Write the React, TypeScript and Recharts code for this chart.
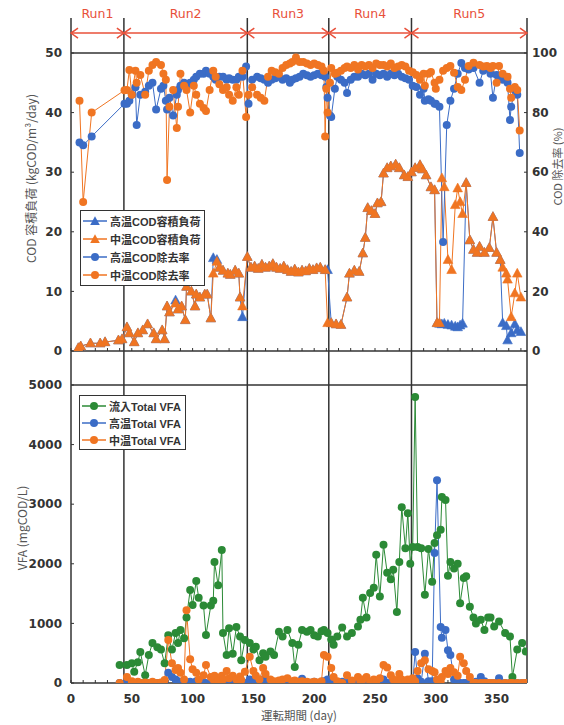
import {
  ComposedChart,
  Legend,
  Line,
  ReferenceDot,
  ReferenceLine,
  XAxis,
  YAxis,
} from "recharts";

const BLUE = "#3b6cc6";
const ORANGE = "#f07522";
const GREEN = "#2b8a36";
const RED = "#e8503a";
const INK = "#333";

const TICK_FONT = "DejaVu Sans";
const TEXT_FONT = '"Liberation Sans", "Noto Sans CJK JP", sans-serif';
const CJK_FONT = '"Noto Sans CJK JP", sans-serif';

// x axis (days)
const dayTicks = [0, 10, 20, 30, 40, 50, 60, 70, 80, 90, 100, 110, 120, 130, 140, 150, 160, 170, 180, 190, 200, 210, 220, 230, 240, 250, 260, 270, 280, 290, 300, 310, 320, 330, 340, 350, 360, 370];
const loadTicks = [0, 10, 20, 30, 40, 50];
const rateTicks = [0, 20, 40, 60, 80, 100];
const vfaTicks = [0, 1000, 2000, 3000, 4000, 5000];

// run boundaries (day)
const runBounds = [0, 43.5, 145, 212, 280, 375];
const runNames = ["Run1", "Run2", "Run3", "Run4", "Run5"];

// COD volumetric load (kgCOD/m3/day)
const loadDays = [
  6, 8, 16, 24, 28, 39, 42,
  46, 48, 52, 55, 59, 63, 68, 70, 75, 77, 79, 81, 86, 88, 91, 94, 95, 99, 102, 103, 106, 110, 112, 115, 117, 120, 122, 125, 129, 131, 135, 138, 139, 141,
  145, 148, 151, 154, 157, 160, 163, 166, 169, 172, 175, 178, 181, 184, 187, 190, 193, 196, 199, 202, 205, 209,
  211, 214, 218, 222, 227, 229, 233, 237, 240, 242, 244, 247, 250, 252, 255, 257, 260, 263, 267, 270, 274, 277,
  280, 283, 287, 289, 292, 296, 299, 301, 303, 305, 307, 310, 313, 316, 318, 320, 322, 325, 328, 331, 334, 336, 340, 344, 347, 350, 353, 355, 358, 359, 362, 365, 367, 370,
];
const hiLoad = [
  0.5, 0.8, 1.3, 1.3, 1.5, 1.8, 2,
  4, 3, 1.5, 3, 3.5, 4.5, 3, 2, 3.5, 2, 7.5, 6.5, 8.5, 7, 7.5, 5.2, 10.8, 10, 7.5, 9.5, 9, 9.5, 9.5, 5.5, 15.6, 15.3, 14, 13.5, 13, 12.8, 13.5, 13, 9, 5.7,
  15.8, 14, 14.2, 13.8, 14.5, 14, 14.2, 14.6, 14, 13.8, 14.2, 13.6, 13.3, 13.7, 13.2, 13.5, 13.4, 13.8, 13.6, 13.9, 14, 13.6,
  13.6, 4.7, 4.5, 4.4, 9, 13, 13.5, 13.3, 16.4, 19, 24, 23.5, 23, 24.8, 25, 29.8, 30.7, 31, 31.3, 30.7, 29.5, 29.2,
  30, 30.7, 31.2, 30.5, 29.5, 27.5, 27, 4.7, 4.6, 4.5, 4.6, 4.4, 4.3, 4.1, 4.0, 4.3, 4.6, 28.2, 18.6, 17, 16.5, 17.5, 16.5, 17.3, 22.5, 16.5, 15.3, 4.7, 4.2, 1.8, 3.0, 4.5, 3.5, 3.2,
];
const midLoad = [
  0.5, 0.8, 1.3, 1.3, 1.5, 1.8, 2,
  4, 3, 1.5, 3, 3.5, 4.5, 3, 2, 3.5, 2, 7.5, 6.5, 8, 7, 7.5, 5.2, 10.8, 10, 7.5, 9.5, 9, 9.5, 9.5, 5.5, 13, 15, 14, 13.5, 13, 12.8, 13.5, 13, 9, 7.5,
  15.8, 14, 14.2, 13.8, 14.5, 14, 14.2, 14.6, 14, 13.8, 14.2, 13.6, 13.3, 13.7, 13.2, 13.5, 13.4, 13.8, 13.6, 13.9, 14, 13.6,
  4.7, 4.7, 4.5, 4.4, 9, 13, 13.5, 13.3, 16.4, 19, 24, 23.5, 23, 24.8, 25, 29.8, 30.7, 31, 31.3, 30.7, 29.5, 29.2,
  30, 30.7, 31.2, 30.5, 29.5, 27.5, 27, 4.7, 4.7, 29, 27.5, 15.3, 13.6, 24.5, 27.3, 25, 23, 28.2, 18.6, 17, 16.5, 17.5, 16.5, 17.3, 22.5, 16.5, 15.3, 14, 13, 12, 5.7, 9.7, 13, 9,
];

// COD removal rate (%)
const rateDays = [
  7, 10, 17,
  44, 46, 48, 50, 53, 54, 57, 61, 64, 67, 70, 74, 76, 78, 79, 81, 84, 87, 88, 90, 93, 95, 98, 101, 103, 106, 109, 111, 114, 117, 119, 122, 125, 128, 130, 133, 136, 138, 141, 144,
  146, 149, 153, 156, 159, 162, 165, 168, 171, 174, 177, 180, 182, 185, 188, 191, 194, 197, 200, 203, 206, 208, 209, 210, 211,
  213, 214, 217, 219, 222, 225, 227, 230, 233, 236, 239, 242, 245, 248, 251, 254, 257, 260, 263, 266, 269, 272, 275, 278,
  281, 284, 287, 290, 291, 294, 296, 299, 300, 303, 306, 309, 312, 315, 318, 321, 324, 327, 331, 336, 339, 342, 345, 347, 350, 352, 355, 359, 361, 362, 365, 367, 369,
];
const hiRate = [
  70, 69, 72,
  83, 83, 84, 86, 88.5, 75.8, 86, 87, 89, 90, 81, 88, 89, 84, 81, 85, 79, 86, 87.6, 89, 90, 88.5, 90, 91, 92, 93, 93, 94, 93, 92, 91, 92, 92, 91, 91.5, 91, 91, 92, 92, 95.5,
  83, 91, 92, 91.5, 91, 90, 91, 91.5, 92, 91, 91.5, 90, 91, 91.5, 92, 93, 92.5, 92, 92.5, 93, 92.5, 93, 92, 88.6, 85,
  79, 78.5, 88, 92, 91, 90, 86.6, 91, 92, 92, 93, 92.5, 93, 91, 93, 92.5, 93, 92, 93, 92.5, 93, 92, 91.5, 91,
  89, 88.6, 86, 88, 84, 84.5, 84, 83, 83, 82, 36.6, 75.8, 84, 88, 93, 96.6, 95, 94.5, 95, 90, 94, 95, 93, 85, 92.6, 92, 91, 90, 77.5, 82, 87.6, 86, 66.4,
];
const midRate = [
  84, 50, 80,
  87.5, 87.6, 94.3, 86, 94, 90, 92.6, 86, 94, 96, 97, 96, 93, 91, 57.4, 82, 87.6, 74.8, 82, 93, 89, 87.6, 80, 89, 86, 83, 81.5, 80.5, 87.6, 94, 92, 89.5, 87.6, 88.5, 86, 84, 88.5, 86, 94, 78.5,
  86, 88.5, 86, 85, 84, 92, 94, 93.5, 93, 95, 96, 96.5, 97, 98.5, 97, 97, 96.5, 96, 96.5, 96, 95.5, 94, 72, 88, 80,
  90, 95, 93, 93.4, 94, 95, 95.5, 95, 96, 94.5, 96, 95.5, 96, 95, 96.5, 96, 96, 95.5, 96.5, 95, 95.5, 96, 95.5, 94,
  93.5, 92.6, 91, 93, 89, 93, 93.6, 90, 88, 91, 94, 95, 95.6, 93.4, 88.6, 87.6, 91, 95.6, 96.7, 96, 95.5, 95.6, 95, 95.6, 90, 95.6, 93, 92, 88, 85, 88.6, 87.6, 74,
];

// Total VFA (mgCOD/L)
const vfaDays = [
  40, 46, 50, 52, 55, 57, 61, 64, 67, 71, 74, 77, 80, 83, 86, 88, 90, 93, 95, 98, 100, 103, 105, 109, 111, 115, 117, 118, 121, 124, 125, 128, 130, 133, 136, 139, 140, 143,
  147, 150, 152, 155, 158, 160, 164, 167, 171, 174, 178, 182, 184, 187, 190, 194, 197, 200, 203, 206, 208, 211,
  214, 216, 219, 223, 227, 231, 236, 238, 240, 243, 246, 249, 251, 254, 257, 260, 263, 265, 268, 270, 272, 275, 277, 279,
  281, 283, 285, 288, 291, 294, 297, 299, 301, 304, 305, 308, 310, 312, 315, 318, 320, 323, 325, 328, 331, 333, 337, 340, 343, 345, 348, 352, 357, 361, 363, 367, 371, 374,
];
const inVfa = [
  300, 300, 330, 190, 350, 520, 130, 470, 670, 600, 560, 330, 800, 560, 840, 670, 890, 750, 1100, 1560, 1310, 1710, 1430, 1300, 805, 1300, 1380, 2030, 1640, 2230, 840, 470, 920, 490, 940, 780, 380, 720,
  670, 560, 610, 380, 500, 440, 530, 470, 860, 780, 890, 670, 270, 640, 890, 860, 890, 800, 780, 870, 890, 840,
  730, 640, 780, 930, 780, 840, 950, 1060, 1430, 1100, 1510, 1600, 2150, 1450, 2320, 1850, 1740, 1900, 1190, 2030, 2950, 2260, 2850, 2000,
  2280, 4800, 2280, 2260, 1480, 2250, 1700, 2350, 2480, 2570, 3120, 3070, 1800, 2030, 1920, 2000, 1340, 1760, 1790, 1280, 1100, 1000, 1060, 890, 1100, 1100, 950, 1030, 840, 780, 100, 560, 670, 530,
];
const hiVfa = [
  0, 20, 0, 0, 10, 0, 0, 0, 0, 0, 0, 20, 170, 100, 60, 30, 0, 0, 0, 20, 0, 30, 0, 0, 0, 0, 30, 0, 60, 0, 40, 0, 0, 20, 0, 0, 30, 0,
  60, 30, 0, 40, 60, 30, 0, 0, 0, 20, 0, 0, 30, 0, 70, 0, 0, 20, 0, 0, 30, 60,
  40, 0, 0, 20, 0, 0, 0, 20, 0, 0, 0, 30, 0, 0, 60, 0, 0, 0, 20, 0, 0, 0, 30, 0,
  0, 520, 80, 20, 490, 30, 30, 2180, 3400, 940, 760, 890, 550, 470, 60, 0, 0, 0, 0, 0, 0, 20, 100, 30, 0, 0, 0, 80, 0, 0, 0, 0, 0, 0,
];
const midVfa = [
  0, 100, 30, 0, 20, 0, 10, 0, 20, 0, 10, 50, 720, 330, 220, 250, 170, 60, 1220, 400, 230, 170, 60, 130, 300, 100, 60, 120, 40, 120, 60, 200, 80, 120, 60, 110, 50, 190,
  440, 200, 120, 60, 250, 150, 60, 30, 40, 60, 80, 30, 40, 20, 30, 20, 10, 20, 10, 30, 470, 440,
  250, 100, 30, 0, 130, 40, 100, 30, 60, 100, 20, 60, 30, 80, 300, 260, 130, 60, 40, 150, 60, 20, 60, 30,
  80, 30, 200, 330, 380, 230, 200, 180, 60, 30, 100, 200, 150, 250, 180, 120, 440, 330, 200, 100, 0, 0, 0, 0, 0, 0, 0, 0, 0, 0, 0, 0, 0, 0,
];

// axis extents: the plot areas reach above the 50 / 5000 frame line
const LOAD_MAX = 55.87;
const RATE_MAX = 111.74;
const VFA_MAX = 5570;
const ARROW_Y = 53.35;

const zip = (days: number[], vals: number[], key: string) =>
  days.map((d, i) => ({ day: d, [key]: vals[i] }));

const hiLoadData = zip(loadDays, hiLoad, "hiLoad");
const midLoadData = zip(loadDays, midLoad, "midLoad");
const hiRateData = zip(rateDays, hiRate, "hiRate");
const midRateData = zip(rateDays, midRate, "midRate");
const inVfaData = zip(vfaDays, inVfa, "inVfa");
const hiVfaData = zip(vfaDays, hiVfa, "hiVfa");
const midVfaData = zip(vfaDays, midVfa, "midVfa");

type LegendItem = { name: string; color: string; shape: "tri" | "circle" };

const topLegend: LegendItem[] = [
  { name: "高温COD容積負荷", color: BLUE, shape: "tri" },
  { name: "中温COD容積負荷", color: ORANGE, shape: "tri" },
  { name: "高温COD除去率", color: BLUE, shape: "circle" },
  { name: "中温COD除去率", color: ORANGE, shape: "circle" },
];
const bottomLegend: LegendItem[] = [
  { name: "流入Total VFA", color: GREEN, shape: "circle" },
  { name: "高温Total VFA", color: BLUE, shape: "circle" },
  { name: "中温Total VFA", color: ORANGE, shape: "circle" },
];

function triPath(cx: number, cy: number) {
  return `M${cx} ${cy - 5.2} L${cx + 4.8} ${cy + 3.6} L${cx - 4.8} ${cy + 3.6} Z`;
}

function triangleDot(color: string) {
  return (p: any) => {
    const { cx, cy, index } = p;
    if (cx == null || cy == null) return <g key={`t${index}`} />;
    return (
      <path
        key={`t${index}`}
        d={triPath(cx, cy)}
        fill={color}
        stroke={color}
        strokeWidth={0.6}
        strokeLinejoin="round"
      />
    );
  };
}

function circleDot(color: string) {
  return (p: any) => {
    const { cx, cy, index } = p;
    if (cx == null || cy == null) return <g key={`c${index}`} />;
    return <circle key={`c${index}`} cx={cx} cy={cy} r={4} fill={color} />;
  };
}

function LegendBox({ items, rowH }: { items: LegendItem[]; rowH: number }) {
  return (
    <div
      style={{
        border: `1.5px solid ${INK}`,
        background: "#fff",
        padding: "1px 4px 1px 2px",
        fontFamily: TEXT_FONT,
        fontSize: 11,
        fontWeight: 700,
        color: INK,
        whiteSpace: "nowrap",
      }}
    >
      {items.map((it) => (
        <div key={it.name} style={{ display: "flex", alignItems: "center", height: rowH }}>
          <svg width={24} height={12} style={{ marginRight: 3 }}>
            <line x1={0} y1={6} x2={24} y2={6} stroke={it.color} strokeWidth={1.5} />
            {it.shape === "tri" ? (
              <path d={triPath(12, 6.5)} fill={it.color} />
            ) : (
              <circle cx={12} cy={6} r={4} fill={it.color} />
            )}
          </svg>
          <span>{it.name}</span>
        </div>
      ))}
    </div>
  );
}

function vTitle(text: string, dx: number, dy: number, size = 12) {
  return (props: any) => {
    const vb = props.viewBox ?? { x: 0, y: 0, width: 0, height: 0 };
    const x = vb.x + dx;
    const y = vb.y + vb.height / 2 + dy;
    return (
      <text
        x={x}
        y={y}
        transform={`rotate(-90 ${x} ${y})`}
        textAnchor="middle"
        dominantBaseline="central"
        fontFamily={CJK_FONT}
        fontSize={size}
        fill="#555"
      >
        {text}
      </text>
    );
  };
}

function xTitle(text: string) {
  return (props: any) => {
    const vb = props.viewBox ?? { x: 0, y: 0, width: 0, height: 0 };
    return (
      <text
        x={vb.x + vb.width / 2}
        y={vb.y + 32}
        textAnchor="middle"
        dominantBaseline="central"
        fontFamily={CJK_FONT}
        fontSize={11.5}
        fill="#555"
      >
        {text}
      </text>
    );
  };
}

const arrowHead = (dir: "left" | "right" | "both") => (p: any) => {
  const { cx, cy } = p;
  const d: string[] = [];
  if (dir === "left" || dir === "both") d.push(`M${cx + 7} ${cy - 5} L${cx} ${cy} L${cx + 7} ${cy + 5}`);
  if (dir === "right" || dir === "both") d.push(`M${cx - 7} ${cy - 5} L${cx} ${cy} L${cx - 7} ${cy + 5}`);
  return <path d={d.join(" ")} fill="none" stroke={RED} strokeWidth={1.5} />;
};

const runLabel = (name: string) => (p: any) => (
  <text
    x={p.cx}
    y={p.cy - 15}
    textAnchor="middle"
    fontFamily={TICK_FONT}
    fontSize={12.5}
    fill={RED}
  >
    {name}
  </text>
);

const tickStyle = { fontSize: 12, fontWeight: 700, fill: INK, fontFamily: TICK_FONT };
const axisLine = { stroke: INK, strokeWidth: 1.5 };

export default function App() {
  const innerBounds = runBounds.slice(1, -1);
  return (
    <div style={{ position: "absolute", left: 0, top: 0, width: 564, height: 725, background: "#fff" }}>
      <div style={{ position: "absolute", left: 0, top: 0 }}>
        <ComposedChart width={564} height={366} margin={{ top: 18, right: 0, bottom: 0, left: 0 }}>
          <XAxis
            dataKey="day"
            type="number"
            domain={[0, 375]}
            allowDataOverflow
            ticks={dayTicks}
            interval={0}
            tickFormatter={() => ""}
            tickSize={-3}
            height={15}
            axisLine={axisLine}
            tickLine={{ stroke: INK }}
          />
          <YAxis
            yAxisId="left"
            width={71}
            domain={[0, LOAD_MAX]}
            allowDataOverflow
            ticks={loadTicks}
            interval={0}
            tickSize={-3}
            tickMargin={12}
            tick={tickStyle}
            axisLine={axisLine}
            tickLine={{ stroke: INK }}
            label={vTitle("COD 容積負荷 (kgCOD/m³/day)", 30, -6)}
          />
          <YAxis
            yAxisId="right"
            orientation="right"
            width={37}
            domain={[0, RATE_MAX]}
            allowDataOverflow
            ticks={rateTicks}
            interval={0}
            tickSize={-3}
            tickMargin={8}
            tick={{ ...tickStyle, textAnchor: "start" }}
            axisLine={axisLine}
            tickLine={{ stroke: INK }}
            label={vTitle("COD 除去率 (%)", 30, -18, 11)}
          />
          <ReferenceLine yAxisId="left" y={50} stroke={INK} strokeWidth={1.5} />
          {innerBounds.map((b) => (
            <ReferenceLine key={`v${b}`} yAxisId="left" x={b} stroke={INK} strokeWidth={1.5} />
          ))}
          <ReferenceLine
            yAxisId="left"
            segment={[
              { x: 0, y: ARROW_Y },
              { x: 375, y: ARROW_Y },
            ]}
            stroke={RED}
            strokeWidth={1.5}
          />
          {runBounds.map((b, i) => (
            <ReferenceDot
              key={`a${b}`}
              yAxisId="left"
              x={b}
              y={ARROW_Y}
              r={0}
              ifOverflow="visible"
              shape={arrowHead(i === 0 ? "left" : i === runBounds.length - 1 ? "right" : "both")}
            />
          ))}
          {runNames.map((n, i) => (
            <ReferenceDot
              key={n}
              yAxisId="left"
              x={(runBounds[i] + runBounds[i + 1]) / 2}
              y={ARROW_Y}
              r={0}
              ifOverflow="visible"
              shape={runLabel(n)}
            />
          ))}
          <Line
            yAxisId="left"
            data={hiLoadData}
            dataKey="hiLoad"
            name="高温COD容積負荷"
            type="linear"
            stroke={BLUE}
            strokeWidth={1}
            dot={triangleDot(BLUE)}
            activeDot={false}
            isAnimationActive={false}
          />
          <Line
            yAxisId="left"
            data={midLoadData}
            dataKey="midLoad"
            name="中温COD容積負荷"
            type="linear"
            stroke={ORANGE}
            strokeWidth={1}
            dot={triangleDot(ORANGE)}
            activeDot={false}
            isAnimationActive={false}
          />
          <Line
            yAxisId="right"
            data={hiRateData}
            dataKey="hiRate"
            name="高温COD除去率"
            type="linear"
            stroke={BLUE}
            strokeWidth={1}
            dot={circleDot(BLUE)}
            activeDot={false}
            isAnimationActive={false}
          />
          <Line
            yAxisId="right"
            data={midRateData}
            dataKey="midRate"
            name="中温COD除去率"
            type="linear"
            stroke={ORANGE}
            strokeWidth={1}
            dot={circleDot(ORANGE)}
            activeDot={false}
            isAnimationActive={false}
          />
          <Legend
            layout="vertical"
            align="center"
            verticalAlign="middle"
            wrapperStyle={{ left: 80, top: 210, width: "auto", height: "auto" }}
            content={() => <LegendBox items={topLegend} rowH={18} />}
          />
        </ComposedChart>
      </div>

      <div style={{ position: "absolute", left: 0, top: 351 }}>
        <ComposedChart width={564} height={374} margin={{ top: 0, right: 0, bottom: 0, left: 0 }}>
          <XAxis
            dataKey="day"
            type="number"
            domain={[0, 375]}
            allowDataOverflow
            ticks={dayTicks}
            interval={0}
            tickFormatter={(v: number) => (v % 50 === 0 ? String(v) : "")}
            tickSize={-3}
            tickMargin={14}
            height={42}
            tick={tickStyle}
            axisLine={axisLine}
            tickLine={{ stroke: INK }}
            label={xTitle("運転期間 (day)")}
          />
          <YAxis
            yAxisId="left"
            width={71}
            domain={[0, VFA_MAX]}
            allowDataOverflow
            ticks={vfaTicks}
            interval={0}
            tickSize={-3}
            tickMargin={12}
            tick={tickStyle}
            axisLine={axisLine}
            tickLine={{ stroke: INK }}
            label={vTitle("VFA (mgCOD/L)", 21, 11)}
          />
          <YAxis
            yAxisId="right"
            orientation="right"
            width={37}
            domain={[0, VFA_MAX]}
            tick={false}
            tickLine={false}
            axisLine={axisLine}
          />
          <ReferenceLine yAxisId="left" y={5000} stroke={INK} strokeWidth={1.5} />
          {innerBounds.map((b) => (
            <ReferenceLine key={`w${b}`} yAxisId="left" x={b} stroke={INK} strokeWidth={1.5} />
          ))}
          <Line
            yAxisId="left"
            data={inVfaData}
            dataKey="inVfa"
            name="流入Total VFA"
            type="linear"
            stroke={GREEN}
            strokeWidth={1}
            dot={circleDot(GREEN)}
            activeDot={false}
            isAnimationActive={false}
          />
          <Line
            yAxisId="left"
            data={hiVfaData}
            dataKey="hiVfa"
            name="高温Total VFA"
            type="linear"
            stroke={BLUE}
            strokeWidth={1}
            dot={circleDot(BLUE)}
            activeDot={false}
            isAnimationActive={false}
          />
          <Line
            yAxisId="left"
            data={midVfaData}
            dataKey="midVfa"
            name="中温Total VFA"
            type="linear"
            stroke={ORANGE}
            strokeWidth={1}
            dot={circleDot(ORANGE)}
            activeDot={false}
            isAnimationActive={false}
          />
          <Legend
            layout="vertical"
            align="center"
            verticalAlign="middle"
            wrapperStyle={{ left: 79, top: 44, width: "auto", height: "auto" }}
            content={() => <LegendBox items={bottomLegend} rowH={17} />}
          />
        </ComposedChart>
      </div>
    </div>
  );
}
